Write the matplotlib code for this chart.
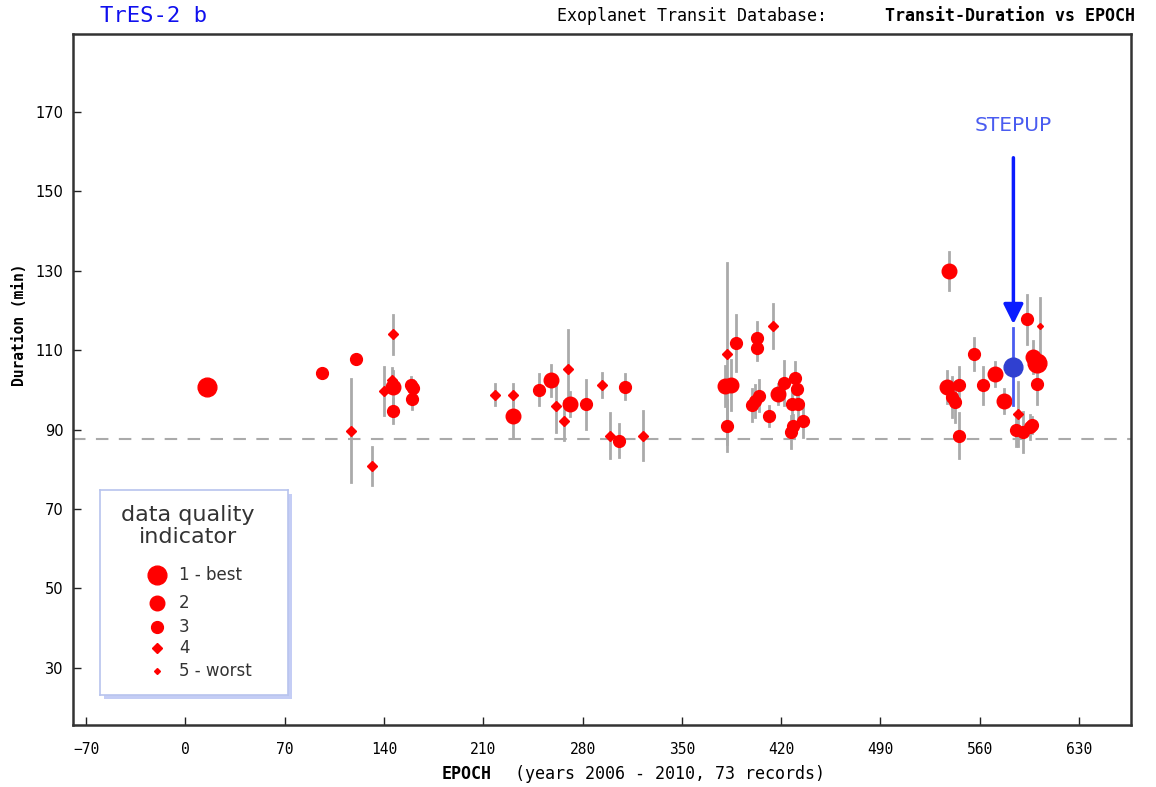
import matplotlib.pyplot as plt

# data (epoch, duration [min], error, quality 1..5)
epoch = [15.1, 96.6, 120.3, 116.6, 131.8, 146.6, 140.3, 145.5, 146.6, 146.6,
         158.8, 160.6, 159.6,
         218.3, 231.2, 231.2, 249.3, 257.8, 261.3, 269.5, 271.2, 267.2, 282.5,
         293.5, 310.2, 299.4, 305.5, 322.4,
         382.1, 382.1, 388.0, 380.4, 384.7, 402.8, 402.8, 414.1, 399.3, 401.5,
         404.4, 411.7, 417.6, 422.3, 429.8, 431.0, 427.9, 432.1, 427.0, 428.5,
         435.6,
         538.3, 593.1, 602.5, 556.2, 570.8, 562.1, 536.7, 540.2, 545.6, 542.5,
         545.6, 577.3, 600.3, 597.8, 600.3, 587.2, 585.6, 590.7, 595.4, 597.0]
duration = [100.8, 104.2, 107.7, 89.7, 80.9, 114.0, 99.7, 102.5, 100.8, 94.8,
            101.2, 100.6, 97.7,
            98.8, 98.8, 93.4, 100.1, 102.5, 96.0, 105.4, 96.4, 92.3, 96.4,
            101.3, 100.8, 88.5, 87.2, 88.5,
            109.1, 91.0, 111.9, 101.0, 101.2, 113.0, 110.6, 116.1, 96.2, 97.3,
            98.6, 93.5, 98.9, 101.7, 103.1, 100.2, 96.5, 96.5, 89.5, 90.8,
            92.2,
            130.0, 117.8, 116.1, 109.1, 104.0, 101.2, 100.8, 98.3, 101.2, 97.0,
            88.5, 97.2, 106.7, 108.4, 101.5, 94.0, 89.8, 89.4, 90.7, 91.2]
error = [0, 0, 0, 13.0, 4.8, 5.0, 6.0, 3.0, 4.0, 3.0,
         2.0, 2.0, 2.5,
         2.6, 2.6, 5.5, 3.9, 3.9, 6.5, 9.7, 3.0, 5.0, 6.2,
         3.0, 3.2, 5.7, 4.2, 6.1,
         22.8, 6.5, 7.1, 5.0, 6.3, 4.0, 3.0, 5.5, 4.0, 4.0,
         4.0, 2.5, 2.5, 5.5, 4.0, 3.0, 4.0, 4.0, 4.0, 3.0,
         4.0,
         4.8, 6.1, 7.0, 4.0, 3.0, 4.7, 4.0, 5.0, 4.5, 5.0,
         5.6, 3.0, 0, 4.0, 5.0, 8.0, 4.0, 5.0, 3.0, 2.0]
quality = [1, 3, 3, 4, 4, 4, 4, 4, 2, 3,
           3, 3, 3,
           4, 4, 2, 3, 2, 4, 4, 2, 4, 3,
           4, 3, 4, 3, 4,
           4, 3, 3, 2, 2, 3, 3, 4, 3, 3,
           3, 3, 2, 3, 3, 3, 3, 3, 3, 3,
           3,
           2, 3, 5, 3, 2, 3, 2, 3, 3, 3,
           3, 2, 1, 2, 3, 4, 3, 3, 3, 3]

# STEPUP observation
stepup_epoch = 583.7
stepup_duration = 105.9
stepup_error = 9.6

mean_duration = 87.7

# marker style per quality class
q_marker = {1: 'o', 2: 'o', 3: 'o', 4: 'D', 5: 'D'}
q_size = {1: 13.5, 2: 10.5, 3: 8.5, 4: 5, 5: 3}
q_label = {1: '1 - best', 2: '2', 3: '3', 4: '4', 5: '5 - worst'}

fig = plt.figure(figsize=(11.56, 7.87), dpi=100)
ax = fig.add_axes([73 / 1156, 1 - 725 / 787, 1058 / 1156, 691.5 / 787])

# mean duration line
ax.axhline(mean_duration, color='#aaaaaa', lw=1.5, ls=(0, (6, 5)), zorder=1)

# error bars first, then the points
for x, y, e in zip(epoch, duration, error):
    if e > 0:
        ax.plot([x, x], [y - e, y + e], color='#aaaaaa', lw=2, zorder=2)
for x, y, q in zip(epoch, duration, quality):
    ax.plot(x, y, marker=q_marker[q], ms=q_size[q], color='#ff0000',
            mec='#ff0000', ls='none', zorder=3)

# STEPUP point with arrow
ax.plot([stepup_epoch, stepup_epoch],
        [stepup_duration - stepup_error, stepup_duration + stepup_error],
        color='#4a5cf0', lw=2, zorder=4)
ax.plot(stepup_epoch, stepup_duration, 'o', ms=13.5, color='#3040d0', zorder=5)
ax.annotate('', xy=(stepup_epoch, 115.9), xytext=(stepup_epoch, 159.2),
            arrowprops=dict(arrowstyle='-|>,head_width=0.6,head_length=1.2',
                            color='#0a1cff', lw=2.5), zorder=6)
ax.text(stepup_epoch, 166.7, 'STEPUP', color='#4a5cf0', fontsize=14.5,
        ha='center', va='center', family='DejaVu Sans')

ax.set_xlim(-79.2, 666.6)
ax.set_ylim(15.6, 189.8)
ax.set_xticks(range(-70, 631, 70))
ax.set_yticks(range(30, 171, 20))
ax.tick_params(axis='both', direction='in', length=6, width=1, color='#222222')
ax.tick_params(axis='x', pad=12, labelsize=10.5)
ax.tick_params(axis='y', pad=7, labelsize=10.5)
for lbl in ax.get_xticklabels():
    lbl.set_family('DejaVu Sans Mono')
for s in ax.spines.values():
    s.set_linewidth(1.8)
    s.set_color('#333333')

# titles and axis labels
fig.text(100 / 1156, 1 - 16 / 787, 'TrES-2 b', color='#1010ee', fontsize=16,
         family='DejaVu Sans Mono', va='center')
fig.text(1135 / 1156, 1 - 16 / 787, 'Transit-Duration vs EPOCH', fontsize=12,
         family='DejaVu Sans Mono', weight='bold', ha='right', va='center')
fig.text(827 / 1156, 1 - 16 / 787, 'Exoplanet Transit Database:', fontsize=12,
         family='DejaVu Sans Mono', ha='right', va='center')
fig.text(20 / 1156, 1 - 325 / 787, 'Duration (min)', fontsize=10.5,
         family='DejaVu Sans Mono', weight='bold', rotation=90,
         ha='center', va='center')
fig.text(492 / 1156, 1 - 774 / 787, 'EPOCH', fontsize=12,
         family='DejaVu Sans Mono', weight='bold', ha='right', va='center')
fig.text(515 / 1156, 1 - 774 / 787, '(years 2006 - 2010, 73 records)',
         fontsize=12, family='DejaVu Sans Mono', ha='left', va='center')

# quality legend box (pixel coords inside the box)
shadow = fig.add_axes([104 / 1156, 1 - 699 / 787, 188 / 1156, 205 / 787])
shadow.set_facecolor('#c4cdf5')
shadow.set_xticks([])
shadow.set_yticks([])
for s in shadow.spines.values():
    s.set_visible(False)
leg = fig.add_axes([100 / 1156, 1 - 695 / 787, 188 / 1156, 205 / 787])
leg.set_xlim(0, 188)
leg.set_ylim(205, 0)
leg.set_xticks([])
leg.set_yticks([])
for s in leg.spines.values():
    s.set_color('#b8c4ee')
    s.set_linewidth(1.2)
leg.text(88, 36, 'data quality\nindicator', ha='center', va='center',
         fontsize=16, color='#333333', family='DejaVu Sans', linespacing=1.1)
row_y = [85, 113, 137, 158, 181]
for q, ry in zip([1, 2, 3, 4, 5], row_y):
    leg.plot(57, ry, marker=q_marker[q], ms=q_size[q], color='#ff0000',
             ls='none')
    leg.text(79, ry, q_label[q], va='center', fontsize=12, color='#333333')

plt.savefig('out.png', dpi=100)
